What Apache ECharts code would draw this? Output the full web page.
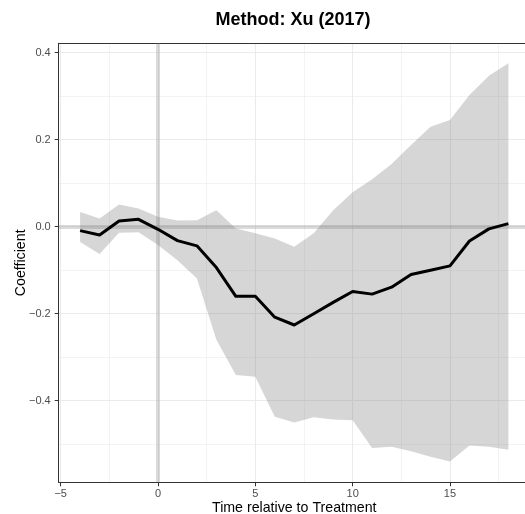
<!DOCTYPE html>
<html>
<head>
<meta charset="utf-8">
<script src="https://cdn.jsdelivr.net/npm/echarts@6/dist/echarts.min.js"></script>
<style>html,body{margin:0;padding:0;background:#fff}#c{width:525px;height:514px}</style>
</head>
<body>
<div id="c"></div>
<script>
const periods = [-4,-3,-2,-1,0,1,2,3,4,5,6,7,8,9,10,11,12,13,14,15,16,17,18];
const coef  = [-0.009,-0.019,0.013,0.017,-0.006,-0.032,-0.044,-0.094,-0.160,-0.160,-0.208,-0.226,-0.200,-0.174,-0.149,-0.155,-0.139,-0.110,-0.100,-0.090,-0.033,-0.005,0.007];
const lower = [-0.035,-0.063,-0.014,-0.013,-0.042,-0.077,-0.119,-0.260,-0.341,-0.345,-0.437,-0.450,-0.438,-0.443,-0.445,-0.509,-0.506,-0.516,-0.529,-0.540,-0.503,-0.506,-0.513];
const upper = [0.034,0.019,0.051,0.042,0.023,0.014,0.015,0.038,-0.004,-0.015,-0.027,-0.046,-0.015,0.038,0.079,0.109,0.144,0.188,0.230,0.245,0.303,0.347,0.376];
const xMajor = [-5,0,5,10,15];
const xMinor = [-2.5,2.5,7.5,12.5,17.5];
const yMajor = [-0.4,-0.2,0,0.2,0.4];
const yMinor = [-0.5,-0.3,-0.1,0.1,0.3];
const refX = [0];
const refY = [0];

const fmt = v => { const s = (Math.round(v*10)/10).toFixed(1); return s.replace('-', '\u2212'); };
const fmtX = v => String(Math.round(v)).replace('-', '\u2212');
const FONT = 'Liberation Sans, Arial, sans-serif';
const XMIN = -5.1, XMAX = 19.1, YMIN = -0.5876, YMAX = 0.4216;

const chart = echarts.init(document.getElementById('c'), null, {renderer:'canvas'});
const axisLineStyle = {color:'#333333', width:1};
chart.setOption({
  animation:false,
  backgroundColor:'#ffffff',
  grid:{left:58.7, width:471.1, top:43.3, height:439, containLabel:false, outerBoundsMode:'none'},
  graphic:[{type:'text', x:293, y:11, style:{text:'Method: Xu (2017)', font:'bold 18px '+FONT, fill:'#000', textAlign:'center', textVerticalAlign:'top'}}],
  xAxis:[
    {type:'value', min:XMIN, max:XMAX, position:'bottom',
     axisLine:{show:true, onZero:false, lineStyle:axisLineStyle},
     axisTick:{show:true, length:4, lineStyle:axisLineStyle, customValues:xMajor},
     axisLabel:{show:true, customValues:xMajor, formatter:fmtX, color:'#4d4d4d', fontSize:11, fontFamily:FONT, margin:6},
     splitLine:{show:true, lineStyle:{color:'#ebebeb', width:1.1}},
     name:'Time relative to Treatment', nameLocation:'middle', nameGap:19, nameMoveOverlap:false,
     nameTextStyle:{color:'#000', fontSize:14.2, fontFamily:FONT}},
    {type:'value', min:XMIN, max:XMAX, position:'top',
     axisLine:{show:true, onZero:false, lineStyle:axisLineStyle},
     axisTick:{show:false, customValues:xMinor},
     axisLabel:{show:false},
     splitLine:{show:true, lineStyle:{color:'#ebebeb', width:0.6}}}
  ],
  yAxis:[
    {type:'value', min:YMIN, max:YMAX, position:'left',
     axisLine:{show:true, onZero:false, lineStyle:axisLineStyle},
     axisTick:{show:true, length:4, lineStyle:axisLineStyle, customValues:yMajor},
     axisLabel:{show:true, customValues:yMajor, formatter:fmt, color:'#4d4d4d', fontSize:11, fontFamily:FONT, margin:8},
     splitLine:{show:true, lineStyle:{color:'#ebebeb', width:1.1}},
     name:'Coefficient', nameLocation:'middle', nameGap:31, nameRotate:90, nameMoveOverlap:false,
     nameTextStyle:{color:'#000', fontSize:14.2, fontFamily:FONT}},
    {type:'value', min:YMIN, max:YMAX, position:'right',
     axisLine:{show:true, onZero:false, lineStyle:axisLineStyle},
     axisTick:{show:false, customValues:yMinor},
     axisLabel:{show:false},
     splitLine:{show:true, lineStyle:{color:'#ebebeb', width:0.6}}}
  ],
  series:[
    {type:'custom', silent:true, z:2,
     data:periods.map((p,i)=>[p, lower[i], upper[i]]),
     renderItem:function(params, api){
       if (params.dataIndex !== 0) return null;
       const pts = [];
       for (let i=0;i<periods.length;i++) pts.push(api.coord([periods[i], upper[i]]));
       for (let i=periods.length-1;i>=0;i--) pts.push(api.coord([periods[i], lower[i]]));
       return {type:'polygon', shape:{points:pts}, style:{fill:'rgba(127,127,127,0.32)', stroke:null}};
     }},
    {type:'line', data:periods.map((p,i)=>[p, coef[i]]), symbol:'none',
     lineStyle:{color:'#000000', width:3, join:'round'}, z:5,
     markLine:{silent:true, symbol:'none', label:{show:false},
       lineStyle:{type:'solid', color:'rgba(127,127,127,0.28)', width:4},
       data:[...refX.map(v=>({xAxis:v})), ...refY.map(v=>({yAxis:v}))]}}
  ]
});
</script>
</body>
</html>
